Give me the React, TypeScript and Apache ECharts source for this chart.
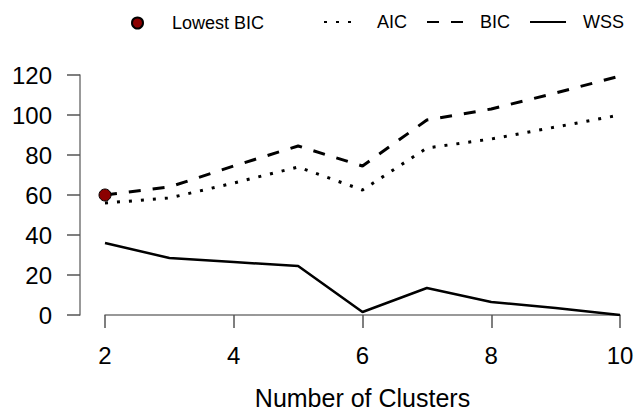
import React, { useEffect, useRef } from "react";
import * as echarts from "echarts";

const clusters = [2, 3, 4, 5, 6, 7, 8, 9, 10];
const aic = [56, 58.5, 66, 74, 62.5, 83.5, 88, 94, 100];
const bic = [60, 64, 74.5, 84.5, 74.5, 97.5, 103, 111, 119.5];
const wss = [36, 28.5, 26.5, 24.5, 1.5, 13.5, 6.5, 3.5, 0];
const xTicks = [2, 4, 6, 8, 10];
const yTicks = [0, 20, 40, 60, 80, 100, 120];

const FONT = "'Liberation Sans', Arial, Helvetica, sans-serif";

export default function App() {
  const ref = useRef<HTMLDivElement>(null);
  useEffect(() => {
    document.body.style.margin = "0";
    const chart = echarts.init(ref.current!, null, { renderer: "svg" });
    let minIdx = 0;
    bic.forEach((v, i) => {
      if (v < bic[minIdx]) minIdx = i;
    });
    const pair = (ys: number[]) => clusters.map((c, i) => [c, ys[i]]);
    chart.setOption({
      animation: false,
      backgroundColor: "#ffffff",
      textStyle: { fontFamily: FONT, color: "#000" },
      grid: { left: 105, right: 19, top: 75, bottom: 97, outerBoundsMode: "none", containLabel: false },
      legend: [
        {
          data: ["Lowest BIC"],
          left: 126,
          top: 9,
          itemWidth: 11,
          itemHeight: 11,
          textStyle: { fontSize: 18, fontFamily: FONT, color: "#000", padding: [0, 0, 0, 24] },
        },
        {
          data: ["AIC", "BIC", "WSS"],
          left: 318,
          top: 8,
          itemWidth: 36,
          itemHeight: 14,
          itemGap: 19,
          itemStyle: { opacity: 0 },
          textStyle: { fontSize: 18, fontFamily: FONT, color: "#000", padding: [0, 0, 0, 12] },
        },
      ],
      xAxis: {
        type: "value",
        min: 2,
        max: 10,
        interval: 2,
        offset: 10,
        name: "Number of Clusters",
        nameLocation: "middle",
        nameGap: 60,
        nameTextStyle: { fontSize: 25, lineHeight: 25, fontFamily: FONT, color: "#000" },
        axisLine: { show: true, lineStyle: { color: "#777", width: 1.5 } },
        axisTick: { show: true, length: 13, lineStyle: { color: "#555", width: 1.5 } },
        axisLabel: {
          fontSize: 24,
          fontFamily: FONT,
          color: "#000",
          margin: 18,
          customValues: xTicks,
        },
        splitLine: { show: false },
      },
      yAxis: {
        type: "value",
        min: 0,
        max: 120,
        interval: 20,
        offset: 25,
        axisLine: { show: true, lineStyle: { color: "#777", width: 1.5 } },
        axisTick: { show: true, length: 13, lineStyle: { color: "#555", width: 1.5 } },
        axisLabel: {
          fontSize: 24,
          fontFamily: FONT,
          color: "#000",
          margin: 28,
          customValues: yTicks,
        },
        splitLine: { show: false },
      },
      series: [
        {
          name: "AIC",
          type: "line",
          data: pair(aic),
          symbol: "none",
          lineStyle: { color: "#000", width: 3, type: [3, 9], cap: "butt" },
          itemStyle: { color: "#000" },
          z: 2,
        },
        {
          name: "BIC",
          type: "line",
          data: pair(bic),
          symbol: "none",
          lineStyle: { color: "#000", width: 3, type: [12, 12], cap: "butt" },
          itemStyle: { color: "#000" },
          z: 2,
        },
        {
          name: "WSS",
          type: "line",
          data: pair(wss),
          symbol: "none",
          lineStyle: { color: "#000", width: 2.5, type: "solid" },
          itemStyle: { color: "#000" },
          z: 2,
        },
        {
          name: "Lowest BIC",
          type: "scatter",
          data: [[clusters[minIdx], bic[minIdx]]],
          symbol: "circle",
          symbolSize: 12,
          itemStyle: { color: "#8B0000", borderColor: "#000", borderWidth: 1, opacity: 1 },
          z: 5,
        },
      ],
    });
    return () => chart.dispose();
  }, []);
  return (
    <div
      ref={ref}
      style={{ position: "fixed", left: 0, top: 0, width: 639, height: 412 }}
    />
  );
}
